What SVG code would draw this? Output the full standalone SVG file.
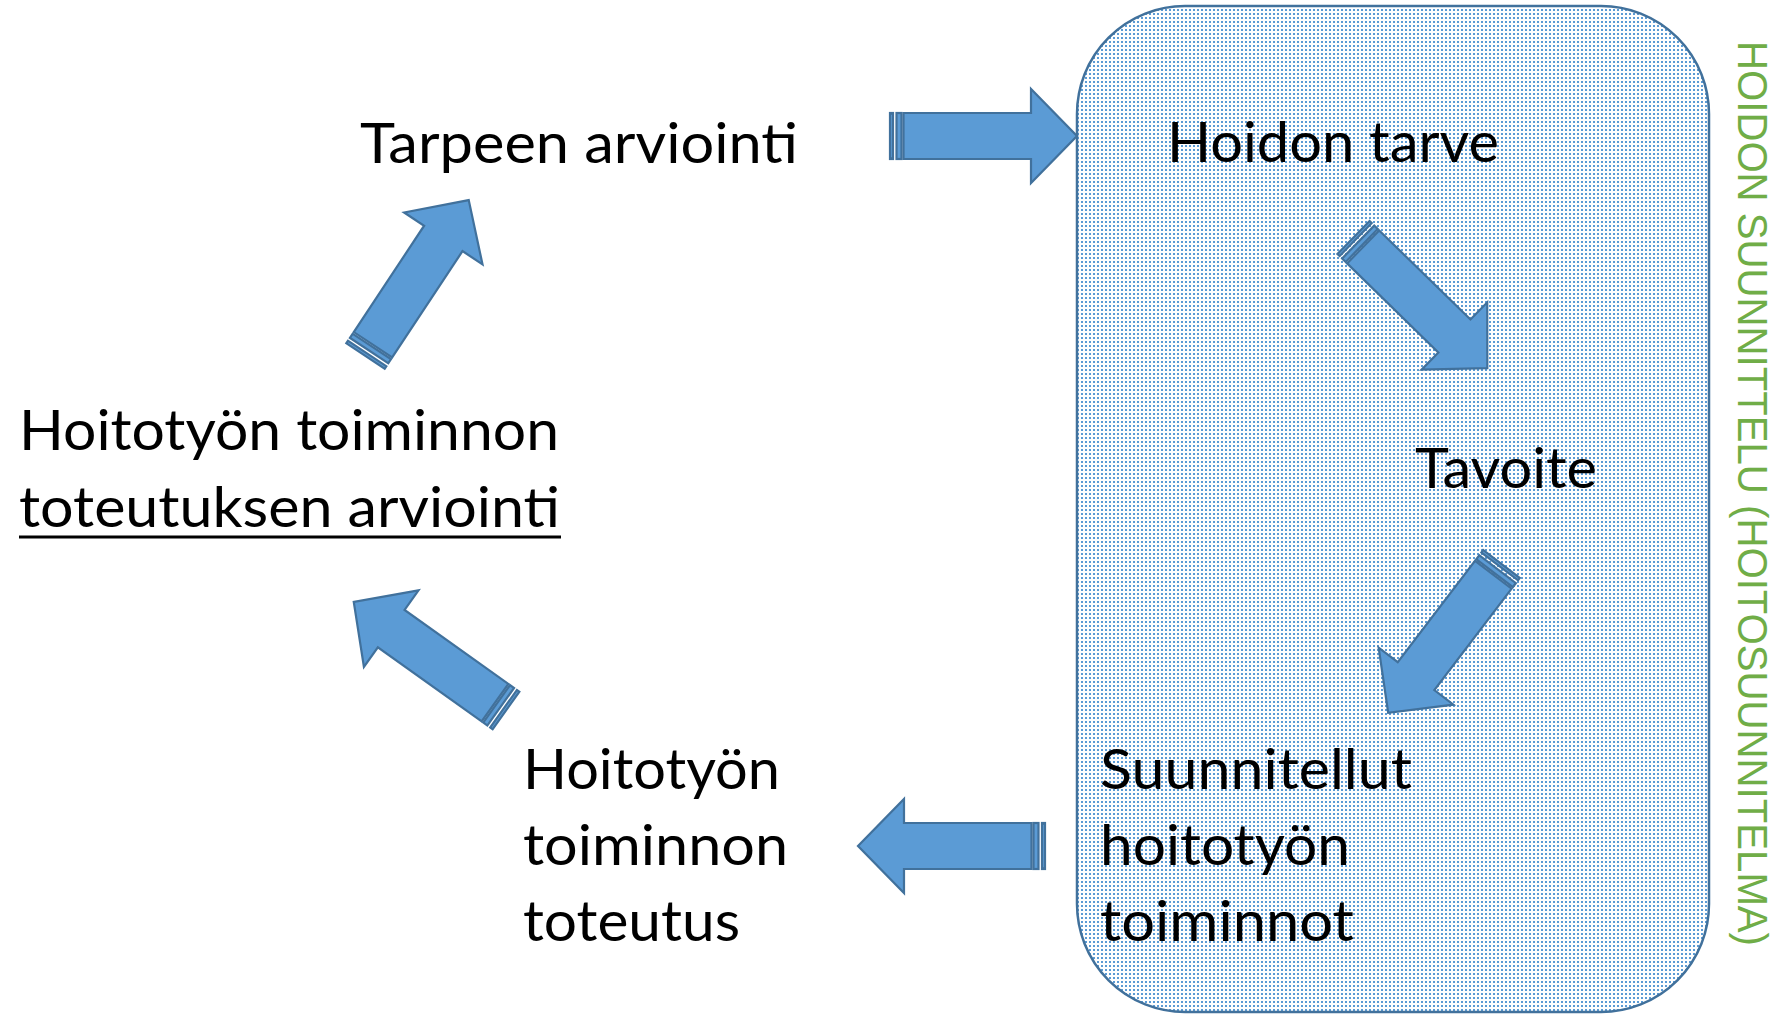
<svg xmlns="http://www.w3.org/2000/svg" xmlns:xlink="http://www.w3.org/1999/xlink" width="1783" height="1016" viewBox="0 0 1783 1016">
  <style>
    .lbl { font-family: Lato, "Liberation Sans", "DejaVu Sans", sans-serif; font-size: 56px; fill: #000000; }
    .side { font-family: "Liberation Sans", "DejaVu Sans", sans-serif; font-size: 42px; fill: #70ad47; }
    .arr path, .arr rect { fill: #5b9bd5; stroke: #41719c; stroke-width: 2.2; stroke-linejoin: miter; }
    .box { fill: url(#dots); stroke: #41719c; stroke-width: 2.5; }
  </style>
  <defs>
    <pattern id="dots" width="4" height="4" patternUnits="userSpaceOnUse">
      <rect width="4" height="4" fill="#ffffff"/>
      <rect x="1" y="1" width="2" height="2" fill="#5b9bd5"/>
    </pattern>
    <g id="sarrow" class="arr">
      <path d="M13.5,-23 H141 V-47 L187,0 L141,47 V23 H13.5 Z"/>
      <rect x="0" y="-23" width="3" height="46"/>
      <rect x="6.5" y="-23" width="5" height="46"/>
    </g>
  </defs>
  <rect width="1783" height="1016" fill="#ffffff"/>

  <g id="node-hoidon-suunnittelu">
    <rect class="box" x="1077" y="6" width="632" height="1006" rx="108" ry="108"/>
    <text class="side" transform="translate(1738,41) rotate(90)" textLength="905" lengthAdjust="spacingAndGlyphs">HOIDON SUUNNITTELU (HOITOSUUNNITELMA)</text>
  </g>

  <g id="connectors">
    <use xlink:href="#sarrow" href="#sarrow" transform="translate(890,136)"/>
    <use xlink:href="#sarrow" href="#sarrow" transform="translate(1353.5,237.5) rotate(44.3)"/>
    <use xlink:href="#sarrow" href="#sarrow" transform="translate(1501.5,564) rotate(127.3)"/>
    <use xlink:href="#sarrow" href="#sarrow" transform="translate(1045,846) rotate(180)"/>
    <use xlink:href="#sarrow" href="#sarrow" transform="translate(506,710.5) rotate(-144.5)"/>
    <use xlink:href="#sarrow" href="#sarrow" transform="translate(365.5,356) rotate(-56.5)"/>
  </g>

  <g id="node-tarpeen-arviointi">
    <text class="lbl" x="360" y="163" textLength="438" lengthAdjust="spacingAndGlyphs">Tarpeen arviointi</text>
  </g>

  <g id="node-hoidon-tarve">
    <text class="lbl" x="1167" y="162" textLength="332" lengthAdjust="spacingAndGlyphs">Hoidon tarve</text>
  </g>

  <g id="node-tavoite">
    <text class="lbl" x="1415" y="488" textLength="182" lengthAdjust="spacingAndGlyphs">Tavoite</text>
  </g>

  <g id="node-suunnitellut">
    <text class="lbl" x="1100" y="789" textLength="312" lengthAdjust="spacingAndGlyphs">Suunnitellut</text>
    <text class="lbl" x="1100" y="865" textLength="250" lengthAdjust="spacingAndGlyphs">hoitotyön</text>
    <text class="lbl" x="1100" y="941" textLength="254" lengthAdjust="spacingAndGlyphs">toiminnot</text>
  </g>

  <g id="node-toteutus">
    <text class="lbl" x="523" y="789" textLength="257" lengthAdjust="spacingAndGlyphs">Hoitotyön</text>
    <text class="lbl" x="523" y="865" textLength="265" lengthAdjust="spacingAndGlyphs">toiminnon</text>
    <text class="lbl" x="523" y="941" textLength="217" lengthAdjust="spacingAndGlyphs">toteutus</text>
  </g>

  <g id="node-toteutuksen-arviointi">
    <text class="lbl" x="19" y="450" textLength="540" lengthAdjust="spacingAndGlyphs">Hoitotyön toiminnon</text>
    <text class="lbl" x="19" y="527" textLength="541" lengthAdjust="spacingAndGlyphs">toteutuksen arviointi</text>
    <line x1="19" y1="537" x2="561" y2="537" stroke="#000000" stroke-width="3"/>
  </g>
</svg>
